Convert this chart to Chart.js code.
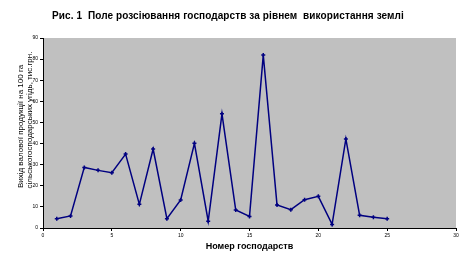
<!DOCTYPE html>
<html>
<head>
<meta charset="utf-8">
<script src="https://cdn.jsdelivr.net/npm/chart.js@4/dist/chart.umd.min.js"></script>
<style>
  html, body { margin: 0; padding: 0; background: #fff; }
  #wrap { width: 466px; height: 259px; }
</style>
</head>
<body>
<div id="wrap"><canvas id="chart" width="466" height="259"></canvas></div>
<script>
// Номер господарства і вихід валової продукції
const farmNo = [1, 2, 3, 4, 5, 6, 7, 8, 9, 10, 11, 12, 13, 14, 15, 16, 17, 18, 19, 20, 21, 22, 23, 24, 25];
const output = [4.4, 5.7, 28.7, 27.3, 26.2, 35.0, 11.2, 37.4, 4.4, 13.3, 40.1, 3.2, 54.1, 8.5, 5.5,
                81.9, 10.9, 8.7, 13.4, 15.0, 1.7, 42.2, 6.0, 5.1, 4.4];
const xTicks = [0, 5, 10, 15, 20, 25, 30];
const yTicks = [0, 10, 20, 30, 40, 50, 60, 70, 80, 90];

const chartTitle = "Рис. 1  Поле розсіювання господарств за рівнем  використання землі";
const yTitle = ["Вихід валової продукції на 100 га", "сільськогосподарських угідь, тис.грн."];
const xTitle = "Номер господарств";

const FONT = "Arial, 'Liberation Sans', sans-serif";

// gray plot area + texts
const decor = {
  id: "decor",
  beforeDraw(c) {
    const { ctx, chartArea: a } = c;
    ctx.save();
    ctx.fillStyle = "#c0c0c0";
    ctx.fillRect(a.left, a.top, a.right - a.left, a.bottom - a.top);
    ctx.restore();
  },
  afterDraw(c) {
    const { ctx, chartArea: a } = c;
    ctx.save();
    ctx.fillStyle = "#000";
    ctx.textAlign = "center";
    ctx.textBaseline = "middle";

    ctx.font = "bold 10px " + FONT;
    ctx.letterSpacing = "0.1px";
    ctx.fillText(chartTitle, 228, 16);
    ctx.letterSpacing = "0px";

    ctx.font = "bold 9px " + FONT;
    ctx.fillText(xTitle, (a.left + a.right) / 2, 247);

    ctx.font = "8px " + FONT;
    ctx.translate(21, 126.5);
    ctx.rotate(-Math.PI / 2);
    ctx.fillText(yTitle[0], 0, 0);
    ctx.fillText(yTitle[1], 6.5, 8.3);
    ctx.restore();
  }
};

const ctx = document.getElementById("chart").getContext("2d");
new Chart(ctx, {
  type: "scatter",
  data: {
    datasets: [{
      data: farmNo.map((n, i) => ({ x: n, y: output[i] })),
      showLine: true,
      borderColor: "#000080",
      borderWidth: 1.5,
      backgroundColor: "#000080",
      pointStyle: "cross",
      pointRadius: 2,
      pointBorderWidth: 1.5,
      tension: 0
    }]
  },
  options: {
    responsive: false,
    animation: false,
    layout: { padding: { top: 38, right: 10, left: 0, bottom: 0 } },
    plugins: { legend: { display: false }, tooltip: { enabled: false }, title: { display: false } },
    scales: {
      x: {
        type: "linear",
        min: 0, max: 30,
        afterBuildTicks: s => { s.ticks = xTicks.map(v => ({ value: v })); },
        afterFit: s => { s.height = 31; },
        border: { color: "#000", width: 1 },
        grid: { drawOnChartArea: false, color: "#000", tickLength: 3 },
        ticks: { color: "#000", font: { size: 5, family: FONT }, padding: 2, maxRotation: 0 }
      },
      y: {
        min: 0, max: 90,
        afterBuildTicks: s => { s.ticks = yTicks.map(v => ({ value: v })); },
        afterFit: s => { s.width = 43; },
        border: { color: "#000", width: 1 },
        grid: { drawOnChartArea: false, color: "#000", tickLength: 3 },
        ticks: { color: "#000", font: { size: 5, family: FONT }, padding: 2 }
      }
    }
  },
  plugins: [decor]
});
</script>
</body>
</html>
